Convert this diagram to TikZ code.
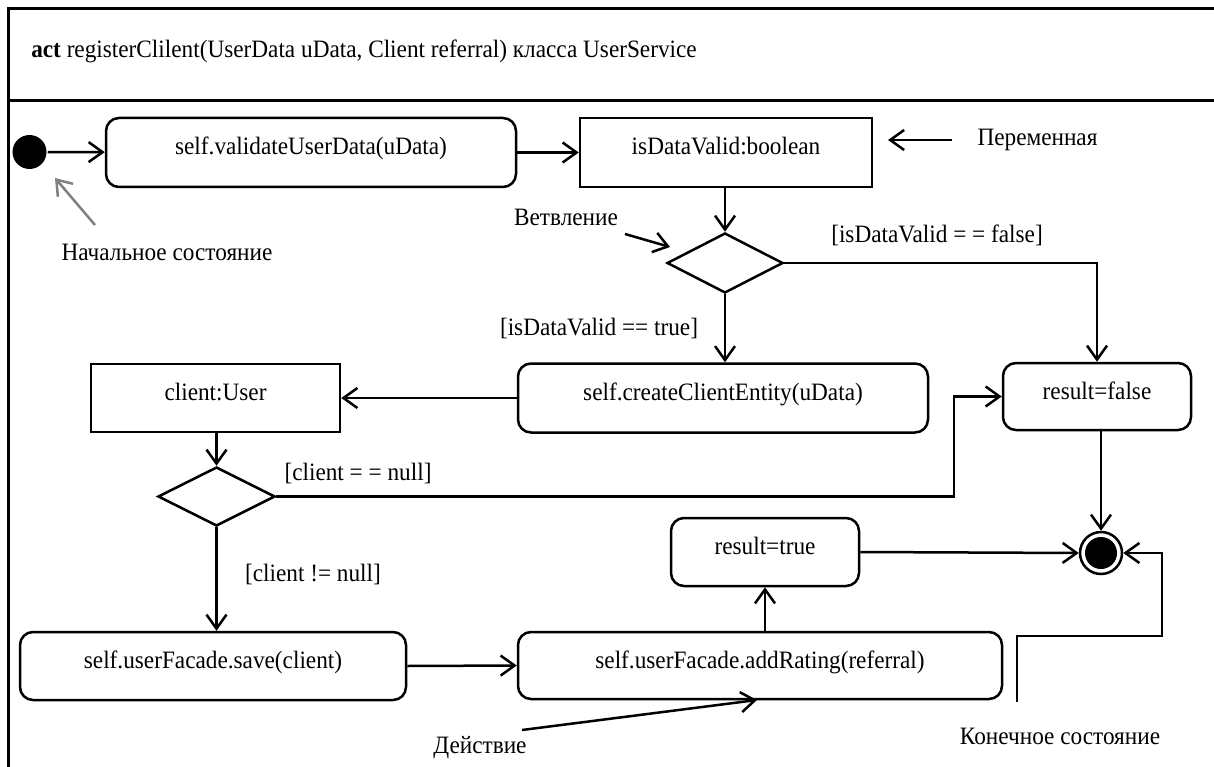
\documentclass[tikz,border=0pt]{standalone}
\usepackage{fontspec}
\setmainfont{Liberation Serif}[FakeStretch=0.93]
\usetikzlibrary{arrows.meta,shapes.geometric}
\begin{document}
\begin{tikzpicture}[x=1pt,y=-1pt,line width=2.5pt,
  >={Straight Barb[length=14pt,width=20pt]},
  every node/.style={font=\fontsize{25}{29}\selectfont, inner sep=0pt},
  actbox/.style={draw, rounded corners=13pt, text height=16pt, text depth=11pt},
  objbox/.style={draw, sharp corners, text height=16pt, text depth=11pt},
  decision/.style={draw, diamond},
  conn/.style={->},
  pointer/.style={->},
  frame/.style={line width=3pt}]
\fill[white] (0,0) rectangle (1214,767);
\useasboundingbox (0,0) rectangle (1214,767);
% frame
\draw[frame] (1214,9) -- (8,9) -- (8,767);
\draw[frame] (8,101) -- (1214,101);
\node[anchor=base west] (title) at (30,58) {\textbf{act} registerClilent(UserData uData, Client referral) класса UserService};
% nodes
\node[circle, fill, minimum size=34pt] (init) at (29.5,152) {};
\node[actbox, minimum width=410pt, minimum height=69pt] (validate) at (311,152.5) {self.validateUserData(uData)};
\node[objbox, minimum width=292pt, minimum height=69pt] (isdv) at (726,152.5) {isDataValid:boolean};
\node[decision, minimum width=116pt, minimum height=60pt] (d1) at (725,263) {};
\node[actbox, minimum width=410pt, minimum height=69pt] (create) at (723,398) {self.createClientEntity(uData)};
\node[actbox, minimum width=188pt, minimum height=67pt] (resfalse) at (1097,396.5) {result=false};
\node[objbox, minimum width=249pt, minimum height=68pt] (client) at (215.5,398) {client:User};
\node[decision, minimum width=117pt, minimum height=59pt] (d2) at (216.5,496.5) {};
\node[actbox, minimum width=386pt, minimum height=68pt] (save) at (213,666) {self.userFacade.save(client)};
\node[actbox, minimum width=484pt, minimum height=67pt] (addr) at (760,665.5) {self.userFacade.addRating(referral)};
\node[actbox, minimum width=188pt, minimum height=68pt] (restrue) at (765,552) {result=true};
\node[circle, draw, minimum size=42pt] (final) at (1101,553) {};
\node[circle, fill, minimum size=32pt] (finalin) at (final.center) {};
% labels
\node (perem) at (1037.5,140) {Переменная};
\node (vetv) at (566,217) {Ветвление};
\node (nach) at (167,252) {Начальное состояние};
\node (g1) at (937,235) {[isDataValid = = false]};
\node (g2) at (599,328) {[isDataValid == true]};
\node (g3) at (358,473) {[client = = null]};
\node (g4) at (313,574) {[client != null]};
\node (deyst) at (480,748) {Действие};
\node (konech) at (1060,736) {Конечное состояние};
% coordinates for free ends
\coordinate (pv1) at (952,140);
\coordinate (pv2) at (888,140);
\coordinate (vb1) at (625,234);
\coordinate (vb2) at (670,247);
\coordinate (ns1) at (95,225);
\coordinate (ns2) at (55,178);
\coordinate (ds1) at (522,730);
\coordinate (ds2) at (757,700);
\coordinate (ks1) at (1017,702);
\coordinate (ks2) at (1162,636);
\coordinate (j1) at (954,496.5);
% connectors
\draw[conn] (init) -- (validate);
\draw[conn] (validate) -- (isdv);
\draw[conn] (isdv.south -| d1.north) -- (d1.north);
\draw[conn] (d1.east) -| (resfalse.north);
\draw[conn] (d1.south) -- (d1.south |- create.north);
\draw[conn] (create.west) -- (client.east);
\draw[conn] (client.south -| d2.north) -- (d2.north);
\draw[conn] (d2.east) -- (j1) |- (resfalse.west);
\draw[conn] (d2.south) -- (d2.south |- save.north);
\draw[conn] (save.east) -- (addr.west);
\draw[conn] (restrue.south |- addr.north) -- (restrue.south);
\draw[conn] (restrue.east) -- (final.west);
\draw[conn] (final.north |- resfalse.south) -- (final.north);
% pointers
\draw[pointer] (pv1) -- (pv2);
\draw[pointer] (vb1) -- (vb2);
\draw[pointer, gray] (ns1) -- (ns2);
\draw[pointer] (ds1) -- (ds2);
\draw[pointer] (ks1) |- (ks2) |- (final.east);
\end{tikzpicture}
\end{document}
